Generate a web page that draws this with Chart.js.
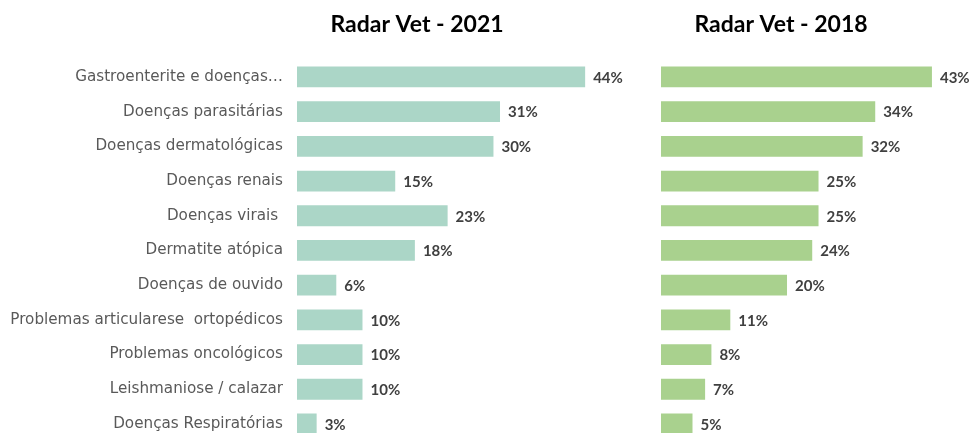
<!DOCTYPE html>
<html>
<head>
<meta charset="utf-8">
<script src="https://cdn.jsdelivr.net/npm/chart.js@4"></script>
<style>
  html, body { margin: 0; padding: 0; background: #ffffff; overflow: hidden; }
  #stage { position: relative; width: 971px; height: 433px; overflow: hidden; }
  .panel { position: absolute; top: 0; height: 470px; }
  #panel-2021 { left: 0; width: 834px; }
  #panel-2018 { left: 591px; width: 380px; }
</style>
</head>
<body>
<div id="stage">
  <div class="panel" id="panel-2021"><canvas id="chart-2021"></canvas></div>
  <div class="panel" id="panel-2018"><canvas id="chart-2018"></canvas></div>
</div>
<script>
/* data */
const categories = [
  'Gastroenterite e doenças…',
  'Doenças parasitárias',
  'Doenças dermatológicas',
  'Doenças renais',
  'Doenças virais ',
  'Dermatite atópica',
  'Doenças de ouvido',
  'Problemas articularese  ortopédicos',
  'Problemas oncológicos',
  'Leishmaniose / calazar',
  'Doenças Respiratórias',
];
const values2021 = [44, 31, 30, 15, 23, 18, 6, 10, 10, 10, 3];
const values2018 = [43, 34, 32, 25, 25, 24, 20, 11, 8, 7, 5];

/* constants */
const TEAL = '#abd6c7';
const GREEN = '#a9d18e';
const LABEL_FONT = '"DejaVu Sans", sans-serif';
const VALUE_FONT = 'Lato, "Liberation Sans", sans-serif';

/* plugins */
const valueLabels = {
  id: 'valueLabels',
  afterDatasetsDraw: (chart) => {
    const ctx = chart.ctx;
    const meta = chart.getDatasetMeta(0);
    const data = chart.data.datasets[0].data;

    ctx.save();
    ctx.font = 'bold 15px ' + VALUE_FONT;
    ctx.fillStyle = '#404040';
    ctx.textAlign = 'left';
    ctx.textBaseline = 'middle';
    meta.data.forEach((bar, index) => {
      ctx.fillText(data[index] + '%', bar.x + 8, bar.y + 1);
    });
    ctx.restore();
  },
};

/* charts */
const createBarChart = (selector, options) => {
  const element = document.querySelector(selector);

  return new Chart(element, {
    type: 'bar',
    data: {
      labels: categories,
      datasets: [{
        data: options.values,
        backgroundColor: options.color,
        borderWidth: 0,
        barPercentage: 0.6,
        categoryPercentage: 1,
      }],
    },
    options: {
      indexAxis: 'y',
      responsive: true,
      maintainAspectRatio: false,
      animation: false,
      events: [],
      layout: {
        padding: { left: 0, right: 0, top: 0, bottom: 28.7 },
      },
      plugins: {
        legend: { display: false },
        tooltip: { enabled: false },
        title: {
          display: true,
          text: options.title,
          color: '#000000',
          font: { family: VALUE_FONT, size: 23, weight: 'bold', lineHeight: 1.2 },
          padding: { top: 11.2, bottom: 20.8 },
        },
      },
      scales: {
        x: {
          display: false,
          min: 0,
          max: options.max,
        },
        y: {
          grid: { display: false, drawTicks: false },
          border: { display: false },
          ticks: {
            display: options.showLabels,
            autoSkip: false,
            padding: 14,
            color: '#595959',
            font: { family: LABEL_FONT, size: 15.2 },
          },
          afterFit: (scale) => {
            scale.width = options.axisWidth;
          },
        },
      },
    },
    plugins: [valueLabels],
  });
};

createBarChart('#chart-2021', {
  title: 'Radar Vet - 2021',
  values: values2021,
  color: TEAL,
  max: 82,
  showLabels: true,
  axisWidth: 297,
});

createBarChart('#chart-2018', {
  title: 'Radar Vet - 2018',
  values: values2018,
  color: GREEN,
  max: 49.2,
  showLabels: false,
  axisWidth: 70,
});
</script>
</body>
</html>
